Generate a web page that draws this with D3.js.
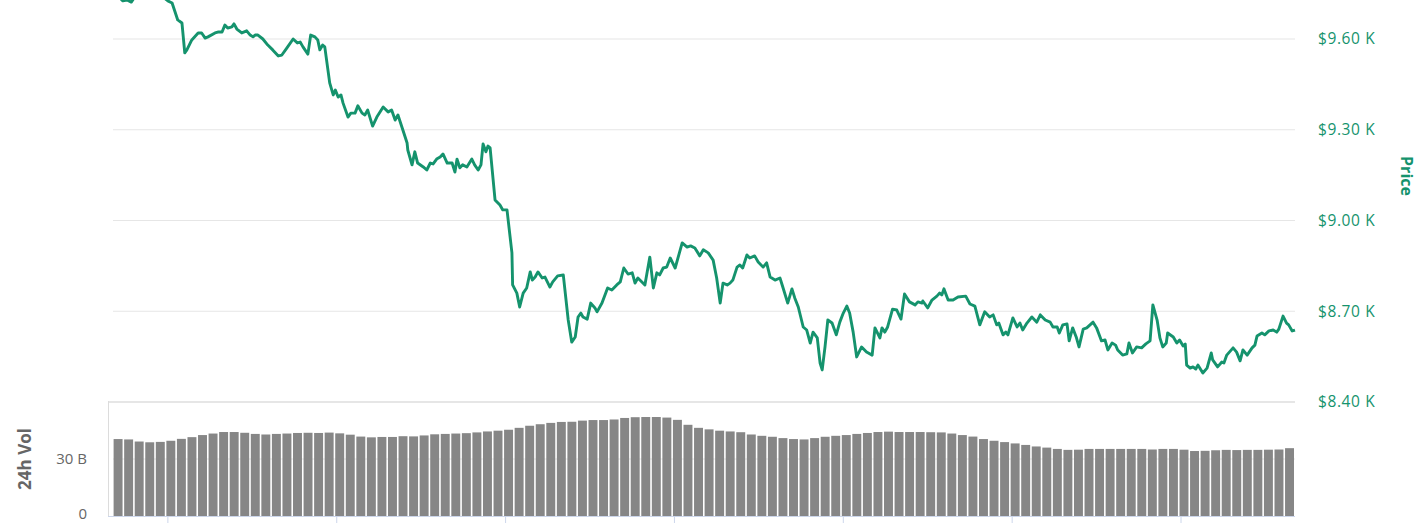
<!DOCTYPE html>
<html><head><meta charset="utf-8">
<script src="https://cdn.jsdelivr.net/npm/d3@7"></script>
<style>
html,body{margin:0;padding:0;background:#fff;overflow:hidden}
svg{display:block;font-family:"Open Sans",sans-serif}
</style></head><body>
<svg id="c" width="1419" height="523"></svg>
<script>
// hours since first sample
const priceHours = [0,0.7,1.4,2.0,2.6,3.3,4.5,6.0,7.1,7.8,8.4,9.2,9.8,10.2,10.5,11.2,12.1,12.6,13.1,13.5,14.5,14.9,15.5,15.9,16.3,16.9,17.2,17.6,18.3,19.0,19.5,19.9,20.2,20.6,21.3,22.0,22.7,23.5,24.0,24.7,25.6,26.2,26.6,27.0,27.7,28.1,28.7,29.1,29.4,29.8,30.1,30.8,31.3,31.6,32.0,32.4,32.7,33.4,33.8,34.4,34.8,35.4,35.8,36.2,36.9,37.5,38.4,39.1,39.6,40.1,40.5,41.2,41.8,41.9,42.5,42.9,43.3,44.1,44.6,45.1,45.5,46.0,46.5,46.9,47.5,48.2,48.6,48.9,49.3,49.7,50.3,51.0,51.4,51.9,52.3,52.6,53.0,53.3,53.6,54.3,55.0,55.4,56.0,56.7,56.8,57.4,57.8,58.3,58.8,59.3,59.6,60.0,60.4,61.0,61.4,62.1,62.5,63.2,64.0,64.7,65.2,65.7,66.1,66.5,66.8,67.4,67.9,68.5,68.8,69.5,70.3,70.9,71.6,72.1,72.6,73.2,73.8,74.2,74.6,75.6,76.3,76.8,77.3,77.7,78.2,78.7,79.2,79.9,80.9,81.6,82.1,82.7,83.4,83.9,84.6,85.3,85.8,86.3,86.7,87.3,87.7,88.1,88.7,89.1,89.5,90.1,90.5,91.2,91.7,92.4,92.9,93.4,94.1,94.8,95.2,95.9,96.5,96.9,97.4,98.1,98.6,99.1,99.5,100.1,100.5,100.8,101.2,101.6,102.2,102.8,103.3,103.8,104.3,104.7,105.2,105.7,106.4,107.1,107.9,108.3,109.0,109.3,109.7,110.1,110.8,111.4,112.0,112.5,113.2,114.0,114.4,115.0,115.1,115.8,116.4,117.1,117.5,117.8,118.1,118.7,119.4,120.1,121.2,121.8,122.5,123.2,123.9,124.6,125.1,125.6,125.9,126.5,126.9,127.2,127.9,128.5,128.9,129.3,129.9,130.6,131.3,131.8,132.5,133.2,133.6,134.2,134.5,135.0,135.6,135.9,136.4,136.9,137.3,137.9,138.4,139.3,139.8,140.5,141.0,141.4,142.0,142.5,142.8,143.5,144.1,144.4,144.9,145.5,146.2,146.8,147.4,147.8,148.4,148.8,149.2,149.7,149.9,150.7,151.2,151.6,152.1,152.4,152.6,153.1,153.5,153.9,154.2,154.9,155.5,156.1,156.3,157.0,157.6,157.9,158.3,159.2,159.7,160.2,160.6,161.2,161.9,162.3,162.6,163.3,163.7,164.3,164.9,165.4,165.7,166.3,166.8,167.1,167.6,168.0];
// USD
const priceValues = [9762,9742,9726,9729,9722,9746,9775,9762,9739,9726,9719,9663,9653,9554,9564,9597,9620,9620,9603,9607,9620,9623,9623,9646,9636,9640,9650,9633,9620,9627,9613,9607,9613,9613,9600,9580,9564,9544,9547,9570,9600,9587,9590,9574,9550,9613,9607,9597,9564,9580,9574,9455,9415,9431,9408,9415,9388,9342,9355,9355,9379,9355,9349,9365,9312,9342,9375,9359,9365,9332,9349,9299,9256,9233,9184,9227,9190,9177,9167,9190,9187,9203,9210,9220,9190,9190,9160,9203,9174,9184,9177,9203,9184,9167,9184,9253,9227,9246,9240,9068,9051,9035,9035,8893,8787,8760,8714,8760,8777,8830,8803,8813,8830,8810,8813,8780,8797,8817,8820,8671,8598,8615,8681,8694,8681,8674,8727,8711,8698,8727,8777,8770,8787,8797,8843,8823,8827,8793,8810,8787,8879,8777,8827,8820,8843,8846,8876,8843,8926,8912,8916,8909,8883,8903,8893,8869,8810,8727,8793,8787,8793,8803,8846,8853,8843,8886,8876,8883,8863,8846,8860,8813,8803,8810,8780,8727,8774,8744,8714,8648,8638,8595,8631,8612,8529,8506,8582,8671,8661,8622,8664,8694,8717,8694,8631,8549,8582,8565,8555,8645,8612,8645,8631,8648,8707,8704,8674,8757,8731,8721,8731,8727,8734,8711,8737,8750,8760,8754,8774,8737,8737,8747,8750,8724,8717,8655,8698,8681,8688,8655,8661,8622,8631,8622,8678,8648,8661,8638,8661,8681,8664,8688,8671,8664,8648,8648,8628,8655,8658,8602,8645,8615,8582,8641,8645,8664,8645,8602,8605,8572,8595,8588,8572,8555,8559,8595,8562,8582,8579,8592,8602,8721,8671,8612,8582,8595,8628,8615,8595,8605,8585,8592,8522,8512,8516,8509,8522,8496,8512,8562,8539,8516,8532,8529,8555,8579,8565,8536,8572,8555,8579,8588,8618,8628,8622,8635,8638,8631,8641,8684,8661,8655,8635,8638];
// 24h volume, billions USD, one bar every 1.5 h
const volumeValues = [40.5,40.3,39.2,38.8,39.0,39.6,40.6,41.5,42.6,43.4,44.2,44.2,43.8,43.2,42.9,43.2,43.4,43.7,43.8,43.7,43.9,43.5,42.8,41.8,41.4,41.6,41.6,42.0,41.9,42.4,43.0,43.2,43.4,43.6,44.0,44.5,44.9,45.4,46.4,47.5,48.3,49.0,49.5,49.6,50.2,50.5,50.5,50.8,51.6,52.0,52.1,52.1,51.8,50.6,48.0,46.4,45.6,44.9,44.5,44.1,42.9,42.2,41.7,41.0,40.5,40.3,41.0,41.7,42.2,42.6,43.2,43.7,44.2,44.4,44.2,44.2,44.2,44.1,44.0,43.4,42.6,41.8,40.5,39.6,38.9,38.2,37.4,36.6,36.0,35.3,34.8,34.9,35.3,35.3,35.3,35.3,35.3,35.3,35.0,35.3,35.3,34.9,34.2,34.3,34.6,34.8,34.7,34.8,34.8,34.9,35.0,35.7];
const volumeStepHours = 1.5;
const priceTicks = [8400,8700,9000,9300,9600];
const volumeTicks = [0,30];
const dayTickHours = [7.8,31.8,55.8,79.8,103.8,127.8,151.8];

const green = "#15936d";
const svg = d3.select("#c");
const x = d3.scaleLinear().domain([0,168]).range([113,1295]);
const yP = d3.scaleLinear().domain([8400,9600]).range([402,39]);
const yV = d3.scaleLinear().domain([0,60]).range([516,402]);

// price grid
svg.append("g").selectAll("line").data(priceTicks).join("line")
  .attr("x1", d => d===8400 ? 108 : x(0)).attr("x2", x(168))
  .attr("y1", d => yP(d)).attr("y2", d => yP(d))
  .attr("stroke", "#e6e6e6").attr("stroke-width", d => d===8400 ? 2 : 1.2);

// price labels (right axis)
svg.append("g").selectAll("text").data(priceTicks).join("text")
  .attr("x", 1318).attr("y", d => yP(d)).attr("dy", "0.35em")
  .attr("fill", green).attr("font-size", 15.5).attr("letter-spacing", "0.6px")
  .text(d => "$" + d3.format(".2f")(d/1000) + " K");

svg.append("text")
  .attr("transform", `translate(1401,176) rotate(90)`)
  .attr("text-anchor", "middle").attr("fill", green)
  .attr("font-size", 16).attr("font-weight", "bold").text("Price");

// volume grid at 30B
svg.append("line").attr("x1", x(0)).attr("x2", x(168))
  .attr("y1", yV(30)).attr("y2", yV(30)).attr("stroke", "#e6e6e6");

// volume bars
const bw = x(volumeStepHours) - x(0);
svg.append("g").selectAll("rect").data(volumeValues).join("rect")
  .attr("x", (d,i) => x(i*volumeStepHours) + 0.6)
  .attr("width", bw - 1.6)
  .attr("y", d => yV(d)).attr("height", d => yV(0) - yV(d))
  .attr("fill", "#808080").attr("fill-opacity", 0.95);

// volume left axis line
svg.append("line").attr("x1",108.5).attr("x2",108.5).attr("y1",401).attr("y2",517)
  .attr("stroke","#dcdcdc");

// volume labels
svg.append("g").selectAll("text").data(volumeTicks).join("text")
  .attr("x", 87).attr("y", d => yV(d) - (d===0 ? 2 : 0)).attr("dy","0.35em").attr("text-anchor","end")
  .attr("fill","#666").attr("font-size",15)
  .text(d => d===0 ? "0" : d + " B");

svg.append("text")
  .attr("transform","translate(31,459) rotate(-90)")
  .attr("text-anchor","middle").attr("fill","#666")
  .attr("font-size",17).attr("font-weight","bold").text("24h Vol");

// bottom axis
svg.append("line").attr("x1",108).attr("x2",x(168)).attr("y1",516.5).attr("y2",516.5)
  .attr("stroke","#ccd6eb");
svg.append("g").selectAll("line").data(dayTickHours).join("line")
  .attr("x1", d => x(d)).attr("x2", d => x(d)).attr("y1",516.5).attr("y2",523)
  .attr("stroke","#ccd6eb");

// price line
const pts = priceHours.map((h,i)=>[h, priceValues[i]]);
svg.append("path").datum(pts)
  .attr("fill","none").attr("stroke",green).attr("stroke-width",2.9)
  .attr("stroke-linejoin","round")
  .attr("d", d3.line().x(d=>x(d[0])).y(d=>yP(d[1])));
</script>
</body></html>
